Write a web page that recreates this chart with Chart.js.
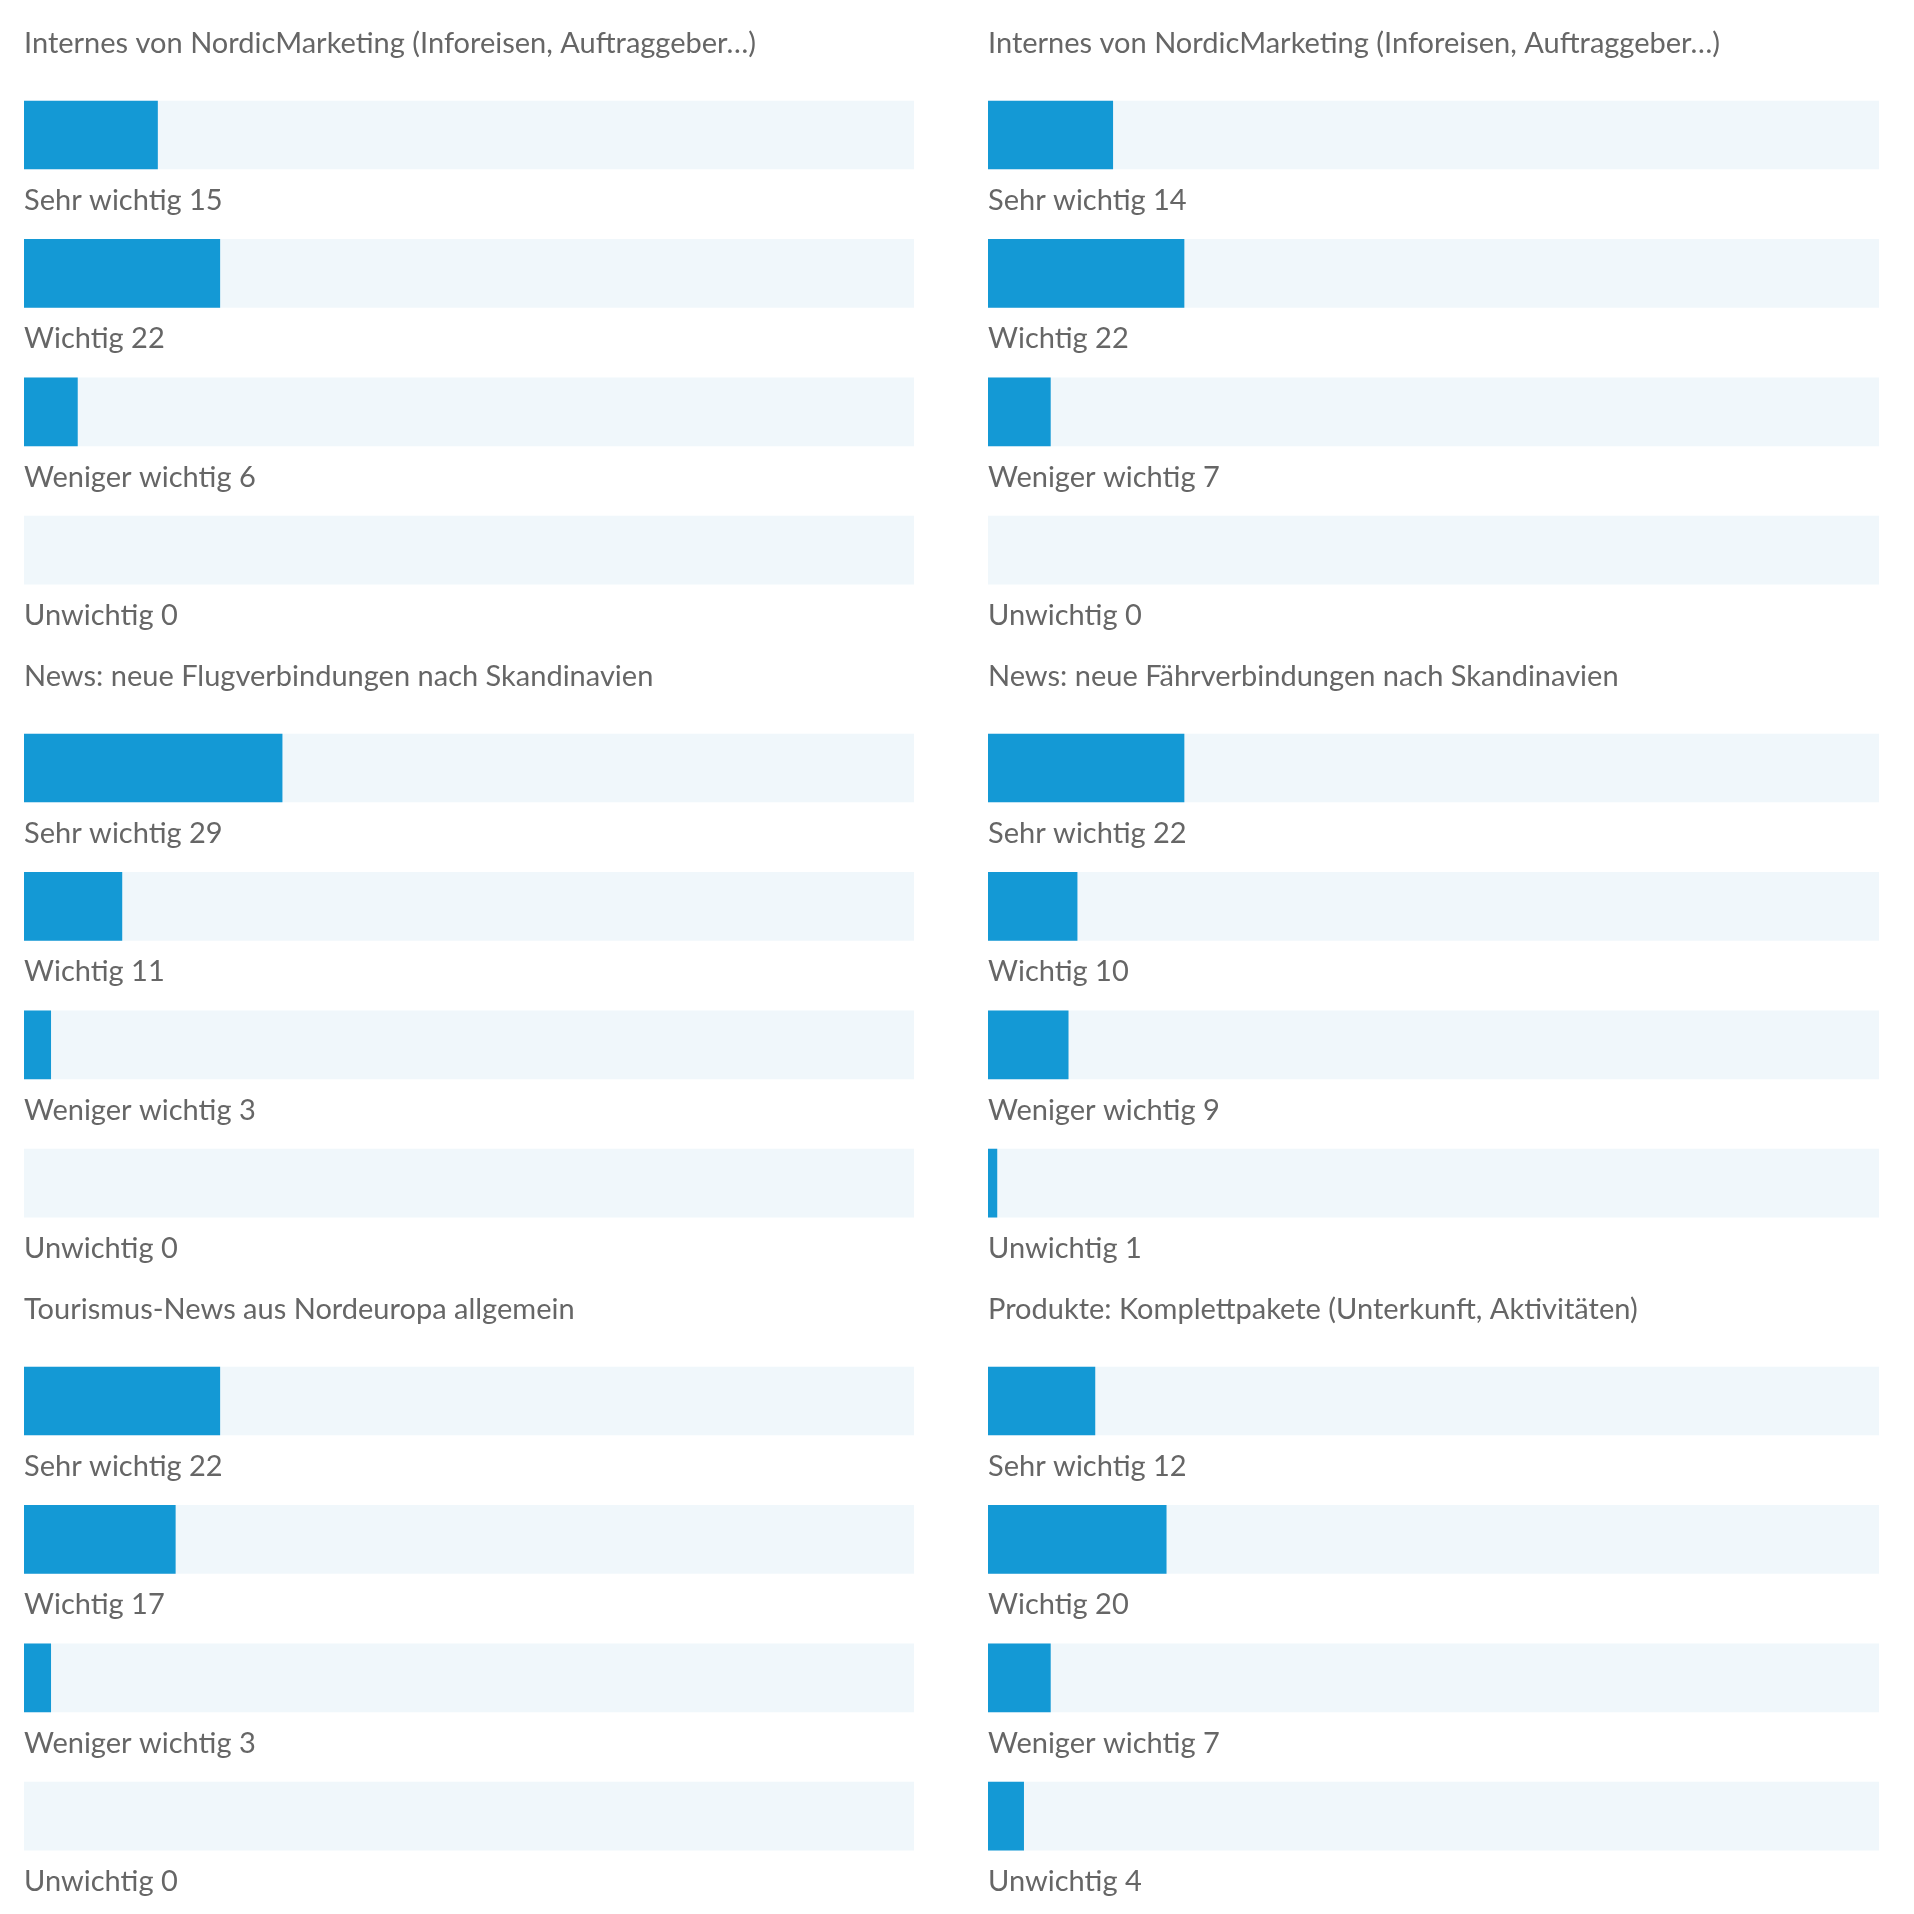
<!DOCTYPE html>
<html lang="de">
<head>
<meta charset="utf-8">
<title>Umfrage Wichtigkeit</title>
<script src="https://cdn.jsdelivr.net/npm/chart.js"></script>
<style>
    html, body { margin: 0; padding: 0; background: #fff; }
    #page { position: relative; width: 1914px; height: 1914px; overflow: hidden; }
    #page canvas { position: absolute; }
</style>
</head>
<body>
<div id="page"></div>
<script>
// === Data ===
const categories = ['Sehr wichtig', 'Wichtig', 'Weniger wichtig', 'Unwichtig'];
const SCALE_MAX = 100;

const titles = [
    'Internes von NordicMarketing (Inforeisen, Auftraggeber…)',
    'Internes von NordicMarketing (Inforeisen, Auftraggeber…)',
    'News: neue Flugverbindungen nach Skandinavien',
    'News: neue Fährverbindungen nach Skandinavien',
    'Tourismus-News aus Nordeuropa allgemein',
    'Produkte: Komplettpakete (Unterkunft, Aktivitäten)'
];
const internesLeft = [15, 22, 6, 0];
const internesRight = [14, 22, 7, 0];
const flugNews = [29, 11, 3, 0];
const faehrNews = [22, 10, 9, 1];
const tourismusNews = [22, 17, 3, 0];
const komplettpakete = [12, 20, 7, 4];
const panelValues = [internesLeft, internesRight, flugNews, faehrNews, tourismusNews, komplettpakete];

// === Look ===
const BLUE = '#1499d5';
const TRACK = '#f0f7fb';
const TEXT = '#666666';
const FONT = '29px Lato, "Open Sans", sans-serif';

const PANEL_H = 633;
const columns = [
    { left: 0, width: 957, padLeft: 24, padRight: 43 },
    { left: 964, width: 950, padLeft: 24, padRight: 35 }
];

// draws panel title and the "Label value" line under each bar
const textPlugin = {
    id: 'panelText',
    afterDraw(chart, args, opts) {
        const ctx = chart.ctx;
        const area = chart.chartArea;
        ctx.save();
        ctx.font = FONT;
        ctx.fillStyle = TEXT;
        ctx.textAlign = 'left';
        ctx.textBaseline = 'alphabetic';
        ctx.fillText(opts.title, area.left, 53);
        const meta = chart.getDatasetMeta(0);
        meta.data.forEach((bar, i) => {
            const label = chart.data.labels[i] + ' ' + chart.data.datasets[0].data[i];
            ctx.fillText(label, area.left, bar.y + bar.height / 2 + 41);
        });
        ctx.restore();
    }
};

const makePanel = (idx) => {
    const col = columns[idx % 2];
    const row = Math.floor(idx / 2);
    const canvas = document.createElement('canvas');
    canvas.width = col.width;
    canvas.height = PANEL_H;
    canvas.style.left = col.left + 'px';
    canvas.style.top = (row * PANEL_H) + 'px';
    document.getElementById('page').appendChild(canvas);

    new Chart(canvas.getContext('2d'), {
        type: 'bar',
        data: {
            labels: categories,
            datasets: [
                {
                    data: panelValues[idx],
                    // a zero answer leaves the track empty
                    backgroundColor: (c) => (c.raw > 0 ? BLUE : 'rgba(0,0,0,0)'),
                    order: 1, grouped: false, barThickness: 68
                },
                { data: categories.map(() => SCALE_MAX), backgroundColor: TRACK, order: 2, grouped: false, barThickness: 68 }
            ]
        },
        options: {
            indexAxis: 'y',
            responsive: false,
            animation: false,
            devicePixelRatio: 1,
            layout: { padding: { top: 65.8, bottom: 13.6, left: col.padLeft, right: col.padRight } },
            scales: {
                x: { display: false, min: 0, max: SCALE_MAX },
                y: { display: false }
            },
            plugins: {
                legend: { display: false },
                tooltip: { enabled: false },
                panelText: { title: titles[idx] }
            }
        },
        plugins: [textPlugin]
    });
};

const start = () => titles.forEach((t, i) => makePanel(i));
if (document.fonts && document.fonts.load) {
    document.fonts.load(FONT).then(start, start);
} else {
    start();
}
</script>
</body>
</html>
